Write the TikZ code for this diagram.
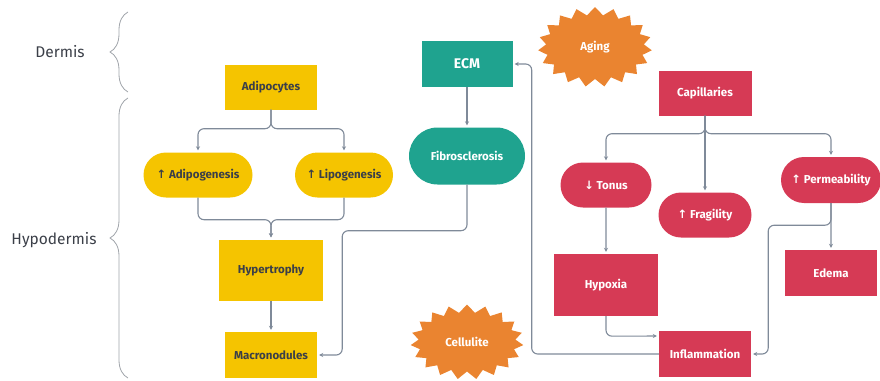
\documentclass[tikz,border=0pt]{standalone}
\usepackage{fontspec}
\setmainfont{Fira Sans}
\newfontfamily\arrowfont{DejaVu Sans}
\usetikzlibrary{calc}
\usetikzlibrary{arrows.meta}
\usetikzlibrary{shapes}
\usetikzlibrary{decorations.pathreplacing}
\definecolor{fatyellow}{HTML}{F5C400}
\definecolor{ecmteal}{HTML}{1FA38F}
\definecolor{vesselred}{HTML}{D63A55}
\definecolor{burstorange}{HTML}{EA8430}
\definecolor{linkgrey}{HTML}{7F8A99}
\definecolor{textgrey}{HTML}{3B3F48}
\definecolor{bracegrey}{HTML}{A0A4AA}
\newcommand{\upar}{{\arrowfont\char"2191}}
\newcommand{\downar}{{\arrowfont\char"2193}}
\tikzset{
	every path/.style={thin},
	align=center,
	box/.style={
		rectangle,
		inner sep=0pt,
		font=\fontsize{11.5}{13}\selectfont\bfseries,
	},
	pill/.style={
		box,
		rounded rectangle,
	},
	fat/.style={fill=fatyellow, text=textgrey},
	ecm/.style={fill=ecmteal, text=white},
	vessel/.style={fill=vesselred, text=white},
	burst/.style={
		starburst,
		starburst points=19,
		starburst point height=8pt,
		random starburst=0,
		fill=burstorange,
		text=white,
		inner sep=0pt,
		font=\fontsize{11.5}{13}\selectfont\bfseries,
	},
	layer/.style={
		text=textgrey,
		font=\fontsize{15.5}{18}\selectfont,
	},
	layerbrace/.style={
		draw=bracegrey,
		line width=0.8pt,
		decorate,
		decoration={brace, amplitude=18pt},
	},
	link/.style={
		draw=linkgrey,
		line width=1.1pt,
		rounded corners=6pt,
		shorten >=2pt,
		-{Stealth[length=4pt,width=4pt]},
	},
}

\begin{document}
\begin{tikzpicture}[x=1pt, y=-1pt]
	\useasboundingbox (0,0) rectangle (880,380);

	% skin layers
	\node[layer] (dermis) at (60,52) {Dermis};
	\node[layer] (hypodermis) at (54,240) {Hypodermis};
	\draw[layerbrace] (128,92) -- (128,12);
	\draw[layerbrace] (128,378) -- (128,98);

	% fat
	\node[box, fat, minimum width=92pt, minimum height=45pt] (adipo) at (271,87) {Adipocytes};
	\node[pill, fat, minimum width=109pt, minimum height=45pt] (adipogen) at (198,175) {\upar\ Adipogenesis};
	\node[pill, fat, minimum width=98pt, minimum height=45pt] (lipogen) at (344,175) {\upar\ Lipogenesis};
	\node[box, fat, minimum width=104pt, minimum height=61pt] (hyper) at (271,270) {Hypertrophy};
	\node[box, fat, minimum width=92pt, minimum height=46pt] (macro) at (271,355) {Macronodules};

	% connective tissue
	\node[box, ecm, minimum width=91pt, minimum height=46pt, font=\fontsize{14}{16}\selectfont\bfseries] (ecmbox) at (467,64) {ECM};
	\node[pill, ecm, minimum width=116pt, minimum height=57pt] (fibro) at (467,156) {Fibrosclerosis};

	\node[burst, minimum width=114pt, minimum height=80pt] (aging) at (595,47) {Aging};
	\node[burst, minimum width=113pt, minimum height=75pt] (cellulite) at (467,342) {Cellulite};

	% microcirculation
	\node[box, vessel, minimum width=93pt, minimum height=45pt] (capil) at (705,93) {Capillaries};
	\node[pill, vessel, minimum width=91pt, minimum height=45pt] (tonus) at (606,185) {\downar\ Tonus};
	\node[pill, vessel, minimum width=93pt, minimum height=45pt] (fragil) at (705,215) {\upar\ Fragility};
	\node[pill, vessel, minimum width=100pt, minimum height=46pt] (perm) at (831,180) {\upar\ Permeability};
	\node[box, vessel, minimum width=104pt, minimum height=62pt] (hypoxia) at (606,285) {Hypoxia};
	\node[box, vessel, minimum width=92pt, minimum height=46pt] (edema) at (831,273) {Edema};
	\node[box, vessel, minimum width=92pt, minimum height=46pt] (inflam) at (705,354) {Inflammation};

	\draw[link] (adipo.south) -- ++(0,19) -| (adipogen.north);
	\draw[link] (adipo.south) -- ++(0,19) -| (lipogen.north);
	\draw[link] (adipogen.south) -- ++(0,22) -| (hyper.north);
	\draw[link] (lipogen.south) -- ++(0,22) -| (hyper.north);
	\draw[link] (hyper) -- (macro);

	\draw[link] (ecmbox) -- (fibro);
	\draw[link] (fibro.south) -- ++(0,46) -| ($(macro.east)+(25,0)$) -- (macro.east);

	\draw[link] (capil.south) -- ++(0,18) -| (tonus.north);
	\draw[link] (capil.south) -- ++(0,18) -| (perm.north);
	\draw[link] (capil) -- (fragil);
	\draw[link] (tonus) -- (hypoxia);
	\draw[link] (hypoxia.south) -- ++(0,20) -- ($(inflam.west)+(0,-18)$);
	\draw[link] (perm) -- (edema);
	\draw[link] (perm.south) -- ++(0,22) -| ($(inflam.east)+(17,0)$) -- (inflam.east);
	\draw[link] (inflam.west) -| ($(ecmbox.east)+(19,0)$) -- (ecmbox.east);

\end{tikzpicture}
\end{document}
